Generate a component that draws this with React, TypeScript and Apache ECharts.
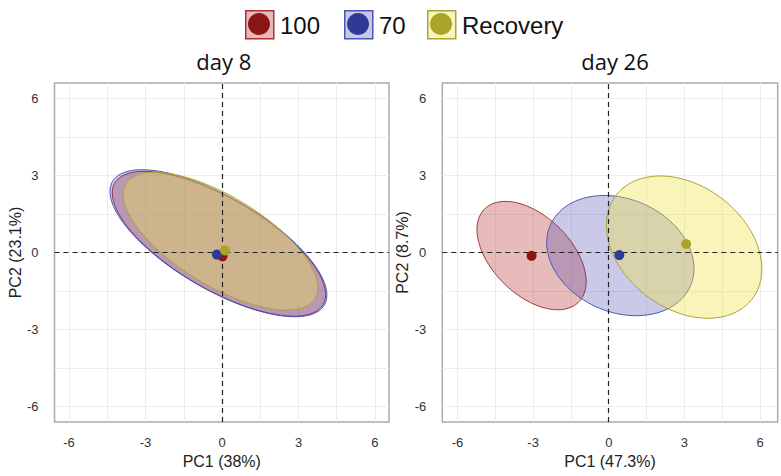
import React, { useEffect, useRef } from "react";
import * as echarts from "echarts";

// ---------- data ----------
const panelTitles = ["day 8", "day 26"];
const groupNames = ["100", "70", "Recovery"];
const xAxisTitles = ["PC1 (38%)", "PC1 (47.3%)"];
const yAxisTitles = ["PC2 (23.1%)", "PC2 (8.7%)"];
const tickLabels = [-6, -3, 0, 3, 6];
const gridValues = [-6, -4.5, -3, -1.5, 0, 1.5, 3, 4.5, 6];

// group centroids (PC1, PC2)
const day8CentroidX = [0.02, -0.2, 0.12];
const day8CentroidY = [-0.15, -0.08, 0.08];
const day26CentroidX = [-3.06, 0.42, 3.07];
const day26CentroidY = [-0.13, -0.1, 0.33];

// confidence ellipses: centre, semi-major, semi-minor, rotation (deg)
const day8EllipseCX = [-0.12, -0.14, -0.06];
const day8EllipseCY = [0.34, 0.36, 0.44];
const day8EllipseA = [4.72, 4.8, 4.33];
const day8EllipseB = [1.78, 1.8, 1.74];
const day8EllipseAngle = [-30, -30, -31];

const day26EllipseCX = [-3.06, 0.46, 2.99];
const day26EllipseCY = [-0.12, -0.12, 0.21];
const day26EllipseA = [2.6, 3.02, 3.37];
const day26EllipseB = [1.54, 2.21, 2.41];
const day26EllipseAngle = [-43.5, -22, -35.4];

// ---------- styles ----------
const dotColors = ["#8c1515", "#2e3a95", "#a9a52a"];
const fillColors = ["rgba(180,30,30,0.3)", "rgba(60,60,170,0.27)", "rgba(240,225,70,0.38)"];
const strokeColors = ["#a83232", "#4a55b8", "#a8a435"];
const legendFill = ["#e6baba", "#c8c8e6", "#f8f5bc"];

const xRanges = [
  [-6.57, 6.55],
  [-6.6, 6.7],
];
const yRange = [-6.6, 6.6];
const grids = [
  { left: 54.5, top: 83, width: 334.5, height: 339 },
  { left: 442.3, top: 83, width: 335.4, height: 339 },
];

export default function App() {
  const ref = useRef<HTMLDivElement>(null);
  useEffect(() => {
    if (!ref.current) return;
    const chart = echarts.init(ref.current, undefined, { renderer: "svg" });

    const panels = [
      {
        cx: day8CentroidX, cy: day8CentroidY,
        ex: day8EllipseCX, ey: day8EllipseCY, ea: day8EllipseA, eb: day8EllipseB, eang: day8EllipseAngle,
      },
      {
        cx: day26CentroidX, cy: day26CentroidY,
        ex: day26EllipseCX, ey: day26EllipseCY, ea: day26EllipseA, eb: day26EllipseB, eang: day26EllipseAngle,
      },
    ];

    const series: any[] = [];
    panels.forEach((p, pi) => {
      // grid lines
      series.push({
        type: "line",
        xAxisIndex: pi,
        yAxisIndex: pi,
        data: [],
        silent: true,
        markLine: {
          silent: true,
          z: 0,
          symbol: ["none", "none"],
          label: { show: false },
          lineStyle: { color: "#ececec", width: 1, type: "solid" },
          emphasis: { disabled: true },
          data: [
            ...gridValues.map((v) => ({ xAxis: v })),
            ...gridValues.map((v) => ({ yAxis: v })),
          ],
        },
      });
      // ellipses
      groupNames.forEach((g, gi) => {
        series.push({
          type: "custom",
          name: g,
          xAxisIndex: pi,
          yAxisIndex: pi,
          z: 2 + gi * 0.01,
          silent: true,
          dimensions: ["x", "y", "a", "b", "ang"],
          encode: { x: 0, y: 1 },
          data: [[p.ex[gi], p.ey[gi], p.ea[gi], p.eb[gi], p.eang[gi]]],
          renderItem: (params: any, api: any) => {
            const cx = api.value(0);
            const cy = api.value(1);
            const a = api.value(2);
            const b = api.value(3);
            const ang = (api.value(4) * Math.PI) / 180;
            const pts: number[][] = [];
            const n = 160;
            for (let i = 0; i < n; i++) {
              const t = (i / n) * Math.PI * 2;
              const dx = a * Math.cos(t) * Math.cos(ang) - b * Math.sin(t) * Math.sin(ang);
              const dy = a * Math.cos(t) * Math.sin(ang) + b * Math.sin(t) * Math.cos(ang);
              pts.push(api.coord([cx + dx, cy + dy]));
            }
            return {
              type: "polygon",
              shape: { points: pts },
              style: { fill: fillColors[gi], stroke: strokeColors[gi], lineWidth: 1 },
            };
          },
        });
      });
      // zero lines
      series.push({
        type: "line",
        xAxisIndex: pi,
        yAxisIndex: pi,
        data: [],
        silent: true,
        markLine: {
          silent: true,
          z: 3,
          symbol: ["none", "none"],
          label: { show: false },
          lineStyle: { color: "#222", width: 1.2, type: [5, 4] },
          emphasis: { disabled: true },
          data: [{ xAxis: 0 }, { yAxis: 0 }],
        },
      });
      // centroids
      groupNames.forEach((g, gi) => {
        series.push({
          type: "scatter",
          name: g,
          xAxisIndex: pi,
          yAxisIndex: pi,
          z: 10,
          symbolSize: 10,
          itemStyle: { color: dotColors[gi], opacity: 1 },
          data: [[p.cx[gi], p.cy[gi]]],
        });
      });
    });

    const legendX = [245, 344, 427];
    const legendGraphics: any[] = [];
    groupNames.forEach((g, gi) => {
      legendGraphics.push({
        type: "rect",
        left: legendX[gi],
        top: 10,
        shape: { width: 28, height: 28 },
        style: { fill: legendFill[gi], stroke: strokeColors[gi], lineWidth: 1.5 },
      });
      legendGraphics.push({
        type: "circle",
        x: legendX[gi] + 14,
        y: 24,
        shape: { cx: 0, cy: 0, r: 11 },
        style: { fill: dotColors[gi] },
      });
      legendGraphics.push({
        type: "text",
        x: legendX[gi] + 35,
        y: 25,
        style: {
          text: g,
          fill: "#111",
          font: '24px "Liberation Sans", Arial, sans-serif',
          textVerticalAlign: "middle",
          verticalAlign: "middle",
        },
      });
    });

    const axisLabelStyle = {
      color: "#333",
      fontSize: 13,
      fontFamily: '"Liberation Sans", Arial, sans-serif',
    };
    const nameStyle = {
      color: "#222",
      fontSize: 16,
      fontFamily: '"Liberation Sans", Arial, sans-serif',
    };

    chart.setOption({
      animation: false,
      backgroundColor: "#fff",
      title: panelTitles.map((t, i) => ({
        text: t,
        left: grids[i].left + grids[i].width / 2 - (i === 0 ? 3 : 0),
        top: 45,
        textAlign: "center",
        textStyle: {
          fontFamily: '"Open Sans", "Noto Sans", sans-serif',
          fontWeight: "normal",
          fontSize: 22,
          color: "#111",
        },
      })),
      grid: grids.map((g) => ({
        ...g,
        show: true,
        backgroundColor: "#fff",
        borderColor: "#aaaaaa",
        borderWidth: 1.5,
        containLabel: false,
      })),
      xAxis: [0, 1].map((i) => ({
        type: "value",
        gridIndex: i,
        min: xRanges[i][0],
        max: xRanges[i][1],
        name: xAxisTitles[i],
        nameLocation: "middle",
        nameGap: 27,
        nameTextStyle: nameStyle,
        axisLine: { show: false },
        axisTick: { show: false },
        splitLine: { show: false },
        axisLabel: { ...axisLabelStyle, margin: 14, customValues: tickLabels },
      })),
      yAxis: [0, 1].map((i) => ({
        type: "value",
        gridIndex: i,
        min: yRange[0],
        max: yRange[1],
        name: yAxisTitles[i],
        nameLocation: "middle",
        nameGap: 26,
        nameTextStyle: nameStyle,
        axisLine: { show: false },
        axisTick: { show: false },
        splitLine: { show: false },
        axisLabel: { ...axisLabelStyle, margin: 16, customValues: tickLabels },
      })),
      graphic: legendGraphics,
      series,
    });
    return () => chart.dispose();
  }, []);
  return (
    <div
      ref={ref}
      style={{ position: "fixed", left: 0, top: 0, width: 781, height: 476 }}
    />
  );
}
